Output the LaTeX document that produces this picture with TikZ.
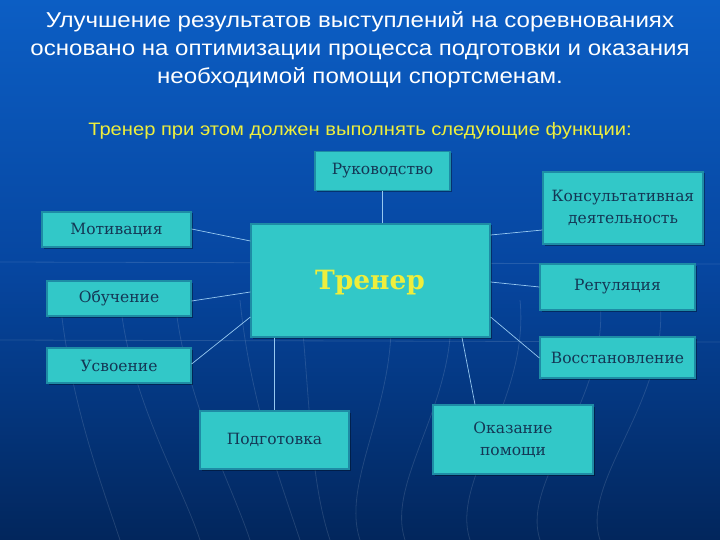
\documentclass[tikz,border=0pt]{standalone}
\usepackage{fontspec}
\setmainfont{DejaVu Serif}
\newfontfamily\sansf[FakeStretch=1.12]{Liberation Sans}
\usetikzlibrary{shadows}
\definecolor{bgtop}{RGB}{12,94,196}
\definecolor{bgmid}{RGB}{6,70,160}
\definecolor{bgbot}{RGB}{2,38,92}
\definecolor{boxfill}{RGB}{50,200,200}
\definecolor{boxedge}{RGB}{30,140,165}
\definecolor{boxtext}{RGB}{20,55,85}
\definecolor{yel}{RGB}{238,238,60}
\definecolor{linec}{RGB}{150,200,240}
\tikzset{
  fbox/.style={draw=boxedge, line width=1.2pt, fill=boxfill, inner sep=0pt,
    text=boxtext, font=\fontsize{15.5}{22}\selectfont, align=center,
    drop shadow={shadow xshift=1.5pt, shadow yshift=-1.5pt, fill=black, opacity=0.35}},
  conn/.style={draw=linec, line width=0.7pt},
  bgline/.style={draw=white, opacity=0.12, line width=0.8pt}
}
\begin{document}
\begin{tikzpicture}[x=1pt,y=-1pt]
\useasboundingbox (0,0) rectangle (720,540);
\shade[top color=bgtop, bottom color=bgbot, middle color=bgmid] (0,0) rectangle (720,540);
% faint background lines
\foreach \a/\b in {60/120,120/200,175/250,240/300,300/330,390/360,450/405,520/470,600/540,660/600}{
  \draw[bgline] (\a,300) .. controls (\a+10,400) and (\b-20,480) .. (\b,540);
}
\draw[bgline] (0,340) -- (720,342);
\draw[bgline] (0,262) -- (720,264);
% title
\node[text=white, font=\sansf\fontsize{21.5}{28}\selectfont, align=center] (title) at (360,50)
  {Улучшение результатов выступлений на соревнованиях\\основано на оптимизации процесса подготовки и оказания\\необходимой помощи спортсменам.};
\node[text=yel, font=\sansf\fontsize{18}{20}\selectfont] (sub) at (360,131)
  {Тренер при этом должен выполнять следующие функции:};
% boxes
\node[fbox, minimum width=239pt, minimum height=113pt] (tr) at (370.5,280.5) {};
\node[text=yel, font=\bfseries\fontsize{26.5}{30}\selectfont] (trt) at (370,283) {Тренер};
\node[fbox, minimum width=135pt, minimum height=39pt] (ruk) at (382.5,171) {Руководство};
\node[fbox, minimum width=160pt, minimum height=72pt] (kon) at (623,208) {Консультативная\\деятельность};
\node[fbox, minimum width=149pt, minimum height=35pt] (mot) at (116.5,229.5) {Мотивация};
\node[fbox, minimum width=144pt, minimum height=35pt] (obu) at (119,298.5) {Обучение};
\node[fbox, minimum width=155pt, minimum height=46pt] (reg) at (617.5,287) {Регуляция};
\node[fbox, minimum width=144pt, minimum height=35pt] (usv) at (119,365.5) {Усвоение};
\node[fbox, minimum width=155pt, minimum height=41pt] (vos) at (617.5,357.5) {Восстановление};
\node[fbox, minimum width=149pt, minimum height=58pt] (pod) at (274.5,440) {Подготовка};
\node[fbox, minimum width=160pt, minimum height=69pt] (oka) at (513,439.5) {Оказание\\помощи};
% connectors
\draw[conn] (ruk.south) -- (tr.north -| ruk.south);
\draw[conn] (mot.east |- 0,229) -- (tr.west |- 0,241);
\draw[conn] (obu.east |- 0,301) -- (tr.west |- 0,292);
\draw[conn] (usv.east |- 0,364) -- (tr.west |- 0,317);
\draw[conn] (tr.east |- 0,235) -- (kon.west |- 0,230);
\draw[conn] (tr.east |- 0,282) -- (reg.west |- 0,287);
\draw[conn] (tr.east |- 0,317) -- (vos.west |- 0,358);
\draw[conn] (tr.south -| pod.north) -- (pod.north);
\draw[conn] (tr.south -| 462,0) -- (oka.north -| 475,0);
\end{tikzpicture}
\end{document}
